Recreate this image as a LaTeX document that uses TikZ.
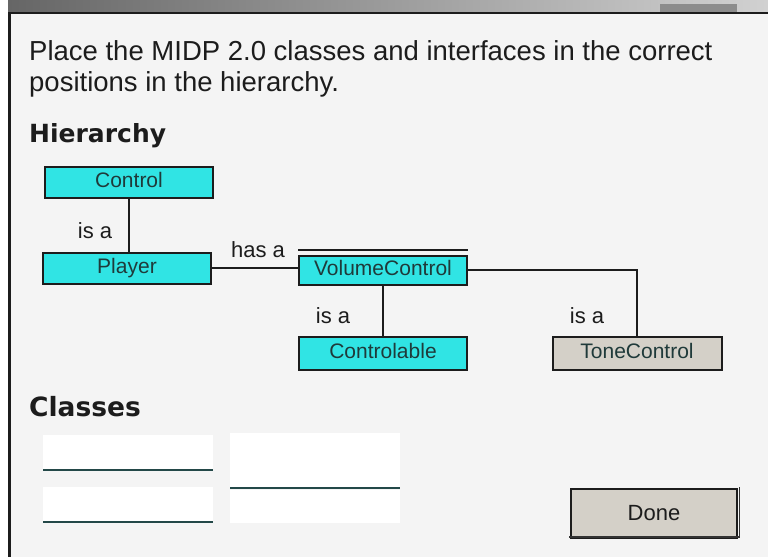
\documentclass[tikz,border=0pt]{standalone}
\usepackage{fontspec}
\setmainfont{Liberation Sans}
\newfontfamily\headfont{DejaVu Sans}
\definecolor{cyanbox}{HTML}{30E4E4}
\definecolor{greybox}{HTML}{D4D0C8}
\definecolor{panel}{HTML}{F4F4F4}
\definecolor{ink}{HTML}{1C1C1C}
\definecolor{boxink}{HTML}{1F3A3A}
\definecolor{slotline}{HTML}{234848}
\begin{document}
\begin{tikzpicture}[x=1pt,y=-1pt,
	cls/.style={draw=ink,line width=2pt,minimum width=168pt,minimum height=31pt,inner sep=0pt,
		text height=15pt,text depth=4pt,text=boxink,font=\fontsize{21}{21}\selectfont},
	iface/.style={cls,fill=cyanbox},
	impl/.style={cls,fill=greybox},
	rel/.style={font=\fontsize{22}{22}\selectfont,text=ink,inner sep=0pt},
	link/.style={draw=ink,line width=2pt},
	txt/.style={anchor=base west,inner sep=0pt,text=ink}]
		\useasboundingbox (0,0) rectangle (768,557);
		\fill[white] (0,0) rectangle (768,557);
		\fill[panel] (11,13) rectangle (768,557);
		\shade[left color=black!60,right color=black!18] (8,0) rectangle (768,12);
		\fill[black!45] (660,4) rectangle (737,12);
		\draw[ink,line width=2pt] (8,12.5)--(768,12.5);
		\draw[ink,line width=3pt] (9.5,12)--(9.5,557);
		\node[txt,font=\fontsize{27.5}{27.5}\selectfont] (intro1) at (29,60) {Place the MIDP 2.0 classes and interfaces in the correct};
		\node[txt,font=\fontsize{27.5}{27.5}\selectfont] (intro2) at (29,91) {positions in the hierarchy.};
		\node[txt,font=\fontsize{25}{25}\headfont\bfseries] (hier) at (29,142) {Hierarchy};
		\node[txt,font=\fontsize{26.5}{26.5}\headfont\bfseries] (classes) at (29,416) {Classes};
		\node[iface] (ctrl) at (129,182) {Control};
		\node[iface] (player) at (127,268) {Player};
		\node[iface,minimum height=29pt] (vol) at (383,270) {VolumeControl};
		\node[iface,minimum height=33pt] (able) at (383,353) {Controlable};
		\node[impl,minimum height=33pt,minimum width=169pt] (tone) at (637,353) {ToneControl};
		\draw[ink,line width=2pt] ([yshift=5pt]vol.north west)--([yshift=5pt]vol.north east);
		\draw[link] (ctrl)--(ctrl |- player.north);
		\draw[link] (player.east)--(player.east -| vol.west);
		\draw[link] (vol)--(able);
		\draw[link] (vol.east)--(tone.north |- vol.east)--(tone.north);
		\node[rel] (isa1) at (95,231) {is a};
		\node[rel] (hasa) at (258,250) {has a};
		\node[rel] (isa2) at (333,316) {is a};
		\node[rel] (isa3) at (587,316) {is a};
		\foreach \y in {435,487}{
		\fill[white] (43,\y) rectangle (213,\y+35);
		\draw[slotline,line width=2pt] (43,\y+35)--(213,\y+35);
		}
		\fill[white] (230,433) rectangle (400,488);
		\draw[slotline,line width=2pt] (230,488)--(400,488);
		\fill[white] (230,490) rectangle (400,523);
		\node[draw=ink,line width=2pt,fill=greybox,minimum width=166pt,minimum height=49pt,
			font=\fontsize{22}{22}\selectfont,text=ink] (done) at (654,513) {Done};
		\draw[black!80,line width=1.5pt] ([xshift=-1pt,yshift=1.5pt]done.south west)--([xshift=1.5pt,yshift=1.5pt]done.south east)--([xshift=1.5pt,yshift=1pt]done.north east);
\end{tikzpicture}
\end{document}
